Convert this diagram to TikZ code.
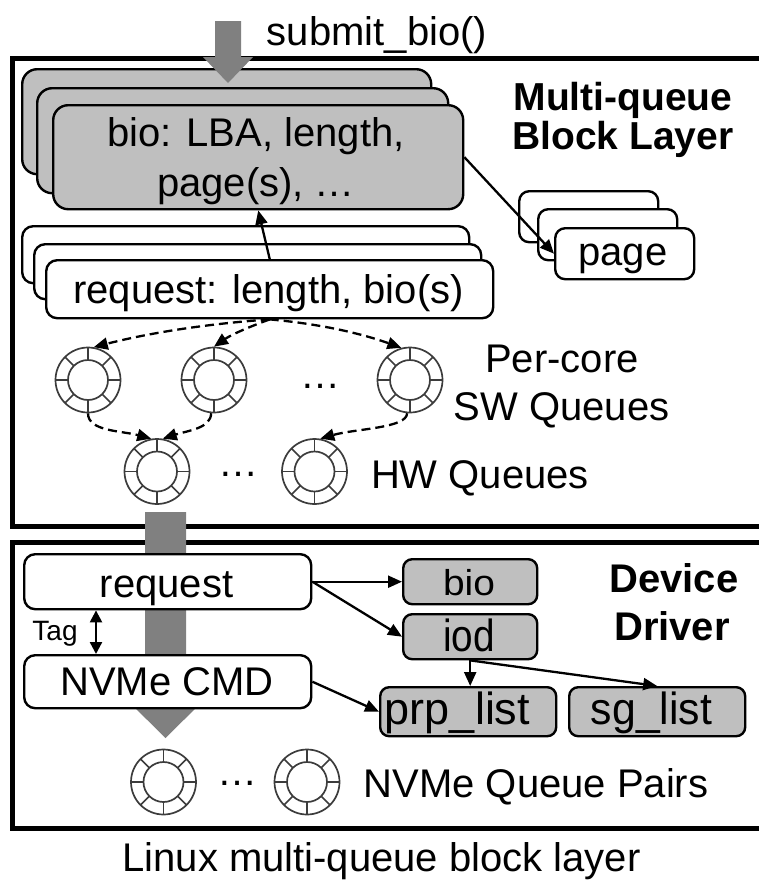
\documentclass[tikz,border=0pt]{standalone}
\usepackage{fontspec}
\usepackage{graphicx}
\setmainfont{Liberation Sans}
\usetikzlibrary{arrows.meta}
\definecolor{boxgray}{HTML}{BFBFBF}
\definecolor{arrowgray}{HTML}{808080}
\definecolor{ringc}{HTML}{3C3C3C}
\newcommand{\fsz}[1]{\fontsize{#1}{#1}\selectfont}
\begin{document}
\begin{tikzpicture}[x=1pt,y=-1pt,
  frame/.style={draw=black,line width=5pt,anchor=north west,inner sep=0pt},
  rbox/.style={draw=black,line width=2.4pt,fill=white,rounded corners=11pt,anchor=north west,inner sep=0pt},
  gbox/.style={rbox,fill=boxgray},
  txt/.style={anchor=base,inner sep=0pt,font=\fsz{40}},
  btxt/.style={anchor=base,inner sep=0pt,font=\fsz{39}\bfseries},
  arr/.style={-{Triangle[length=14pt,width=12pt]},line width=2.3pt},
  darr/.style={arr,dash pattern=on 9pt off 5pt},
  tagarr/.style={{Triangle[length=12pt,width=12pt]}-{Triangle[length=12pt,width=12pt]},line width=2.3pt},
  ring/.style={circle,draw=ringc,line width=1.7pt,minimum size=65pt,inner sep=0pt,
    path picture={\draw[ringc,line width=1.7pt] (path picture bounding box.center) circle (20pt);
      \foreach \a in {0,45,...,315}{\draw[ringc,line width=1.7pt] (path picture bounding box.center) ++(\a:20pt) -- ++(\a:14pt);}}},
  bigarr/.style={fill=arrowgray,draw=none}
]
\useasboundingbox (0,0) rectangle (758,881);
\fill[white] (0,0) rectangle (758,881);

% outer frames
\node[frame,minimum width=750.5pt,minimum height=468.5pt] (mqbox) at (9.5,55.5) {};
\node[frame,minimum width=750.5pt,minimum height=285.5pt] (ddbox) at (9.5,540) {};

% lower gray arrow
\fill[bigarr] (145,512) -- (186,512) -- (186,700) -- (204,700) -- (165.5,738) -- (127,700) -- (145,700) -- cycle;

% bio stack
\node[gbox,rounded corners=15pt,minimum width=409pt,minimum height=105pt] (bioA) at (21,68) {};
\node[gbox,rounded corners=15pt,minimum width=411pt,minimum height=105pt] (bioB) at (36,87) {};
\node[gbox,rounded corners=15pt,minimum width=410pt,minimum height=104pt] (bioC) at (52,104) {};
\node[txt] (bioT1) at (256,146) {bio: LBA, length,};
\node[txt] (bioT2) at (256,196) {page(s), …};

% top gray arrow
\fill[bigarr] (215,21) -- (241,21) -- (241,57) -- (253,57) -- (228,83) -- (203,57) -- (215,57) -- cycle;
\node[txt] (submit) at (377,45) {submit\_bio()};

% request stack
\node[rbox,minimum width=447pt,minimum height=57pt] (reqA) at (21,225) {};
\node[rbox,minimum width=447pt,minimum height=55pt] (reqB) at (33,243) {};
\node[rbox,minimum width=447pt,minimum height=58pt] (reqC) at (45,259) {};
\node[txt] (reqT) at (268.5,303.5) {request: length, bio(s)};

% page stack
\node[rbox,rounded corners=10pt,minimum width=139pt,minimum height=51pt] (pgA) at (518,190) {};
\node[rbox,rounded corners=10pt,minimum width=139pt,minimum height=51pt] (pgB) at (537,208) {};
\node[rbox,rounded corners=10pt,minimum width=139pt,minimum height=51pt] (pgC) at (554,227) {};
\node[txt] (pgT) at (623,265) {page};

\draw[arr] (reqC.north) -- (bioC.south);
\draw[arr] (bioC.east) -- (pgC.west);

\node[btxt] (mq1) at (623,110) {Multi-queue};
\node[btxt] (mq2) at (623,149) {Block Layer};

% software queues
\node[ring] (sw1) at (88,380) {};
\node[ring] (sw2) at (214,380) {};
\node[ring] (sw3) at (410,380) {};
\node[txt] (swdots) at (320,388) {…};
\node[txt] (pc1) at (562,372) {Per-core};
\node[txt] (pc2) at (561.5,420) {SW Queues};

% hardware queues
\node[ring] (hw1) at (157,471.5) {};
\node[ring] (hw2) at (314.5,471.5) {};
\node[txt] (hwdots) at (238,476) {…};
\node[txt] (hwlab) at (480,488) {HW Queues};

% dashed connectors
\draw[darr] (reqC.south) .. controls +(-58,4) and +(58,-15) .. (sw1.80);
\draw[darr] (reqC.south) .. controls +(-18,6.5) and +(18,-12.5) .. (sw2.north);
\draw[darr] (reqC.south) .. controls +(45,4) and +(-45,-16) .. (sw3.105);
\draw[darr] (sw1.south) .. controls +(0,18) and +(-30,-8) .. (hw1.100);
\draw[darr] (sw2.265) .. controls +(0,15) and +(25,-8) .. (hw1.80);
\draw[darr] (sw3.265) .. controls +(0,15) and +(35,-10) .. (hw2.80);

% device driver
\node[rbox,minimum width=287pt,minimum height=55pt] (ddreq) at (23,553) {};
\node[txt] (ddreqT) at (166.5,597) {request};
\node[rbox,minimum width=287pt,minimum height=53pt] (nvme) at (23,654) {};
\node[txt] (nvmeT) at (167,695) {NVMe CMD};
\node[gbox,rounded corners=9pt,minimum width=134pt,minimum height=45pt] (ddbio) at (402,558) {};
\node[txt,font=\fsz{36}] (ddbioT) at (469,595) {\scalebox{1.08}[1]{bio}};
\node[gbox,rounded corners=9pt,minimum width=134pt,minimum height=45pt] (iod) at (402,613) {};
\node[txt,font=\fsz{45}] (iodT) at (469,651) {\scalebox{0.86}[1]{iod}};
\node[gbox,rounded corners=9pt,minimum width=176pt,minimum height=49pt] (prp) at (379,686) {};
\node[txt,font=\fsz{45}] (prpT) at (457.5,724) {prp\_list};
\node[gbox,rounded corners=9pt,minimum width=176pt,minimum height=49pt] (sg) at (568,686) {};
\node[txt,font=\fsz{45}] (sgT) at (651.5,724) {\scalebox{0.95}[1]{sg\_list}};

\node[btxt,font=\fsz{40}\bfseries] (dev1) at (674,592) {Device};
\node[btxt,font=\fsz{40}\bfseries] (dev2) at (672,640) {Driver};

\draw[arr] (ddreq.east) -- (ddbio.west);
\draw[arr] (ddreq.east) -- (iod.west);
\draw[arr] (iod.south) -- (iod.south |- prp.north);
\draw[arr] (iod.south) -- (sg.north);
\draw[arr] (nvme.east) -- (prp.west);
\draw[tagarr] ([xshift=73pt]ddreq.south west) -- ([xshift=73pt]nvme.north west);
\node[txt,font=\fsz{28}] (tag) at (55,640) {Tag};

% NVMe queue pairs
\node[ring] (nv1) at (163.5,782) {};
\node[ring] (nv2) at (307,782) {};
\node[txt] (nvdots) at (237.5,785) {…};
\node[txt] (nvlab) at (536,797) {NVMe Queue Pairs};

\node[txt] (caption) at (381.5,871) {Linux multi-queue block layer};
\end{tikzpicture}
\end{document}
